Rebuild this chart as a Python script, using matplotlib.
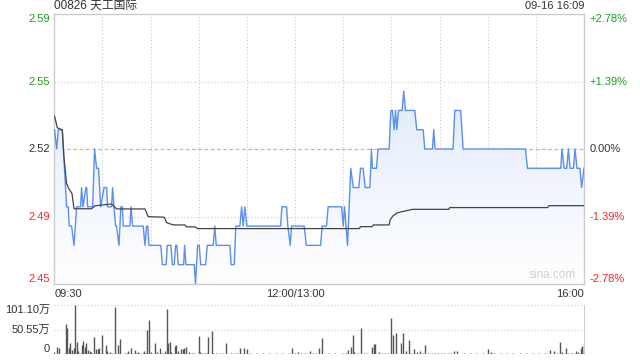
"""
Intraday time-share chart for 00826 (sina style): price line with
average-price line on top, minute volume bars below.
"""
import matplotlib
matplotlib.use("Agg")
import matplotlib.pyplot as plt
import numpy as np
from matplotlib.patches import Polygon
from matplotlib.transforms import blended_transform_factory

plt.rcParams["font.family"] = ["Liberation Sans", "Noto Sans CJK SC", "DejaVu Sans"]

TITLE = "00826 天工国际"
STAMP = "09-16 16:09"
PREV_CLOSE = 2.52

# minutes since 09:30 (lunch break removed, 330 = 16:00)
price_min = [0.2, 1.5, 2.5, 5, 7.7, 8.7, 9.3, 10.8, 12.3, 13.9, 16.4, 17, 17.9,
             19.7, 20.2, 20.8, 23.9, 25.1, 26.4, 27.6, 28.9, 31, 32.6, 33.2,
             35.7, 36.3, 37.2, 38.2, 38.8, 40.3, 41.5, 42.4, 43, 47.1, 47.8,
             48.8, 55.4, 56.5, 57.5, 58.2, 59, 66.4, 67.3, 69.7, 70.4, 72.7,
             73.5, 74.7, 75.6, 76.4, 77.2, 80.6, 81.2, 82, 87.2, 88, 89.3,
             90.3, 91.2, 94.3, 95.3, 99, 100, 100.9, 109.4, 110.2, 112.1,
             113.1, 115.6, 116.7, 117.7, 118.7, 120, 141, 141.8, 144.7, 145.5,
             147, 147.8, 155.7, 157, 165.9, 166.9, 169.6, 170.6, 179, 180,
             180.8, 182.7, 184.7, 186.2, 189.7, 190.8, 192.4, 193.7, 196.6,
             197.6, 198.2, 200.7, 201.7, 208.6, 209.7, 210.7, 211.7, 212.6,
             213.4, 214.4, 216.7, 217.7, 218.8, 224.6, 225.8, 229.8, 230.8,
             235.6, 236.4, 237.2, 248.4, 249.5, 253.2, 254.7, 293.5, 294.8,
             315.5, 316.3, 317.6, 319.2, 320.3, 321.3, 323.4, 324.4, 325.6,
             327.5, 328.5, 330]
price = [2.53, 2.52, 2.53, 2.53, 2.49, 2.49, 2.48, 2.48, 2.47, 2.49, 2.49, 2.50,
         2.49, 2.50, 2.50, 2.49, 2.49, 2.52, 2.51, 2.51, 2.49, 2.50, 2.50, 2.49,
         2.49, 2.50, 2.49, 2.48, 2.48, 2.47, 2.49, 2.49, 2.48, 2.48, 2.49,
         2.48, 2.48, 2.47, 2.48, 2.48, 2.47, 2.47, 2.46, 2.46, 2.47, 2.47,
         2.46, 2.46, 2.47, 2.47, 2.46, 2.46, 2.47, 2.46, 2.46, 2.45, 2.47,
         2.47, 2.46, 2.46, 2.47, 2.47, 2.48, 2.47, 2.47, 2.46, 2.46,
         2.48, 2.48, 2.49, 2.48, 2.49, 2.48, 2.48, 2.49, 2.49, 2.48,
         2.47, 2.48, 2.48, 2.47, 2.47, 2.48, 2.48, 2.49, 2.49, 2.48,
         2.49, 2.47, 2.51, 2.50, 2.50, 2.51, 2.51, 2.50, 2.50,
         2.52, 2.51, 2.51, 2.52, 2.52, 2.54, 2.54, 2.53, 2.54,
         2.53, 2.54, 2.54, 2.55, 2.54, 2.54, 2.53, 2.53, 2.52,
         2.52, 2.53, 2.52, 2.52, 2.54, 2.54, 2.52, 2.52, 2.51,
         2.51, 2.52, 2.51, 2.51, 2.52, 2.51, 2.51, 2.52, 2.51,
         2.51, 2.50, 2.51]

avg_min = [0.2, 1.9, 5, 6, 7.7, 9.3, 11, 12.3, 23.3, 25.3, 35.7, 38.8, 56.5,
           58.5, 68.5, 70, 74.1, 81.4, 82.4, 87.6, 89.3, 190, 190.8, 198,
           198.8, 208.6, 209.2, 211.1, 213.6, 216.7, 223.4, 245.8, 246.4,
           307.4, 308.1, 330]
avg_price = [2.537, 2.531, 2.530, 2.516, 2.502, 2.499, 2.497, 2.489, 2.489,
             2.4905, 2.4915, 2.4889, 2.4889, 2.4849, 2.4846, 2.4818, 2.4806,
             2.4806, 2.4796, 2.4796, 2.4787, 2.4787, 2.4797, 2.4797, 2.4806,
             2.4806, 2.4832, 2.4854, 2.4868, 2.4875, 2.4887, 2.4887, 2.4896,
             2.4896, 2.4906, 2.4906]

# volume per minute, in 万 shares
vol_min = [0, 2, 3, 5, 6, 7, 8, 9, 10, 11, 12, 13, 14, 15, 17, 18, 19, 20, 21,
           22, 23, 25, 26, 27, 28, 30, 32, 33, 35, 36, 37, 38, 40, 41, 43, 44,
           45, 46, 48, 50, 51, 52, 53, 55, 56, 57, 58, 59, 60, 61, 63, 64, 66,
           67, 69, 70, 71, 72, 73, 75, 76, 77, 79, 80, 81, 82, 84, 86, 87, 88,
           90, 91, 92, 94, 95, 96, 98, 99, 101, 103, 105, 107, 108, 110, 112,
           114, 116, 118, 120, 122, 124, 126, 128, 130, 132, 134, 136, 138,
           140, 142, 144, 146, 148, 150, 152, 154, 156, 158, 159, 161, 163,
           165, 167, 169, 171, 173, 175, 177, 179, 181, 182, 183, 185, 186,
           187, 189, 191, 193, 195, 198, 199, 200, 202, 204, 206, 208, 210,
           211, 213, 216, 217, 219, 221, 222, 224, 226, 228, 230, 231, 233,
           235, 237, 239, 241, 243, 245, 247, 249, 251, 253, 255, 257, 259,
           261, 263, 265, 267, 270, 272, 274, 276, 278, 280, 282, 284, 286,
           288, 290, 292, 294, 296, 298, 300, 302, 304, 306, 309, 311, 313,
           315, 316, 319, 320, 322, 323, 325, 326, 328, 329, 330]
vol_wan = [5.5, 16, 12.5, 2, 2, 63, 54, 12.5, 24, 9, 12.5, 101.1, 26, 7, 19, 28,
           16, 23, 9, 7, 5.5, 35, 11, 11, 12.5, 40, 19, 7, 5.5, 3, 2, 97, 19,
           32, 2, 3, 4, 7, 14, 9, 4, 5.5, 4, 4, 7, 4, 50, 71, 5.5, 2, 23, 5.5,
           14, 4, 7, 92, 23, 25, 5.5, 18, 19, 7, 11, 11, 14, 16, 5.5, 3, 3, 2,
           37, 5.5, 4, 3, 4, 35, 47, 4, 3, 3, 3, 24, 2, 3, 4, 4, 12.5, 12.5,
           11, 3, 2, 3, 2, 3, 2, 3, 2, 3, 2, 3, 2, 3, 14, 4, 5.5, 4, 3, 2, 7,
           4, 3, 12.5, 33, 2, 3, 2, 3, 2, 3, 2, 4, 9, 16, 39, 5.5, 4, 54, 4,
           3, 16, 21, 21, 5.5, 3, 3, 3, 75, 39, 44, 23, 44, 7, 30, 4, 11, 5.5,
           7, 3, 19, 4, 3, 4, 3, 4, 3, 4, 3, 7, 7, 2, 3, 2, 3, 2, 3, 2, 3, 11,
           5.5, 3, 2, 3, 2, 3, 2, 3, 2, 3, 2, 3, 2, 3, 2, 3, 2, 3, 9, 7, 4, 26,
           5.5, 14, 4, 3, 4, 7, 5.5, 12.5, 18, 19]

pct_levels = [2.78, 1.39, 0.0, -1.39, -2.78]
left_labels = ["2.59", "2.55", "2.52", "2.49", "2.45"]
right_labels = ["+2.78%", "+1.39%", "0.00%", "-1.39%", "-2.78%"]
time_ticks = [0, 150, 330]
time_labels = ["09:30", "12:00/13:00", "16:00"]
vol_ticks = [101.10, 50.55, 0]
vol_labels = ["101.10万", "50.55万", "0"]

GREEN = "#1ea01e"
RED = "#ee2a2a"
TXT = "#333333"
GRID = "#cccccc"
BLUE = "#5a8ff0"

fig = plt.figure(figsize=(6.4, 3.6), dpi=100)
ax = fig.add_axes([0.0848, 0.2111, 0.8277, 0.75])
axv = fig.add_axes([0.0848, 0.0153, 0.8277, 0.1375])

levels = [PREV_CLOSE * (1 + p / 100) for p in pct_levels]
ylo, yhi = levels[-1], levels[0]
ax.set_xlim(0, 330)
ax.set_ylim(ylo, yhi)

# grid
for m in range(30, 330, 30):
    ax.axvline(m, color=GRID, lw=0.8, ls=(0, (1, 2)), zorder=0)
    axv.axvline(m, color="none")
for lv in levels[1:-1]:
    if lv == PREV_CLOSE:
        ax.axhline(lv, color="#bbbbbb", lw=0.9, ls=(0, (3, 2)), zorder=0)
    else:
        ax.axhline(lv, color=GRID, lw=0.8, ls=(0, (1, 2)), zorder=0)

# gradient fill under price
verts = list(zip(price_min, price)) + [(price_min[-1], ylo), (price_min[0], ylo)]
poly = Polygon(verts, closed=True, facecolor="none", edgecolor="none")
ax.add_patch(poly)
grad = np.linspace(0, 1, 256).reshape(-1, 1)
c_top = np.array([0.84, 0.89, 0.98])
c_bot = np.array([1.0, 1.0, 1.0])
img = c_top[None, None, :] * (1 - grad[:, :, None]) + c_bot[None, None, :] * grad[:, :, None]
im = ax.imshow(img, extent=[0, 330, ylo, yhi], aspect="auto", origin="upper", zorder=1)
im.set_clip_path(poly)

ax.plot(price_min, price, color=BLUE, lw=1.0, zorder=3)
ax.plot(avg_min, avg_price, color="#444444", lw=0.9, zorder=4)

for s in ax.spines.values():
    s.set_color(GRID)
    s.set_linewidth(1)
ax.set_xticks([])
ax.set_yticks([])

# price axis labels
trl = blended_transform_factory(ax.transAxes, ax.transData)
colors = [GREEN, GREEN, TXT, RED, RED]
vas = ["top", "center", "center", "center", "bottom"]
for lv, ll, rl, c, va in zip(levels, left_labels, right_labels, colors, vas):
    ax.text(-0.008, lv, ll, transform=trl, ha="right", va=va, color=c, fontsize=8)
    ax.text(1.01, lv, rl, transform=trl, ha="left", va=va, color=c, fontsize=8)

has = ["left", "center", "right"]
for t, lab, ha in zip(time_ticks, time_labels, has):
    ax.text(t, -0.02, lab, transform=blended_transform_factory(ax.transData, ax.transAxes),
            ha=ha, va="top", color=TXT, fontsize=8)

ax.text(0.0, 1.01, TITLE, transform=ax.transAxes, ha="left", va="bottom",
        color=TXT, fontsize=8.5)
ax.text(1.0, 1.01, STAMP, transform=ax.transAxes, ha="right", va="bottom",
        color=TXT, fontsize=8)
ax.text(0.985, 0.012, "sina.com", transform=ax.transAxes, ha="right", va="bottom",
        color="#cfcfcf", fontsize=8.5)

# volume panel
axv.set_xlim(0, 330)
axv.set_ylim(0, vol_ticks[0])
axv.vlines(vol_min, 0, vol_wan, color="#555555", lw=1.0)
for v in vol_ticks[:2]:
    axv.axhline(v, color=GRID, lw=0.8, ls=(0, (1, 2)), zorder=0)
for name, s in axv.spines.items():
    s.set_visible(name == "right")
    s.set_color(GRID)
axv.set_xticks([])
axv.set_yticks([])
trv = blended_transform_factory(axv.transAxes, axv.transData)
for v, lab, va in zip(vol_ticks, vol_labels, ["top", "center", "bottom"]):
    axv.text(-0.008, v, lab, transform=trv, ha="right", va=va, color=TXT, fontsize=8)

fig.savefig("out.png", dpi=100)
